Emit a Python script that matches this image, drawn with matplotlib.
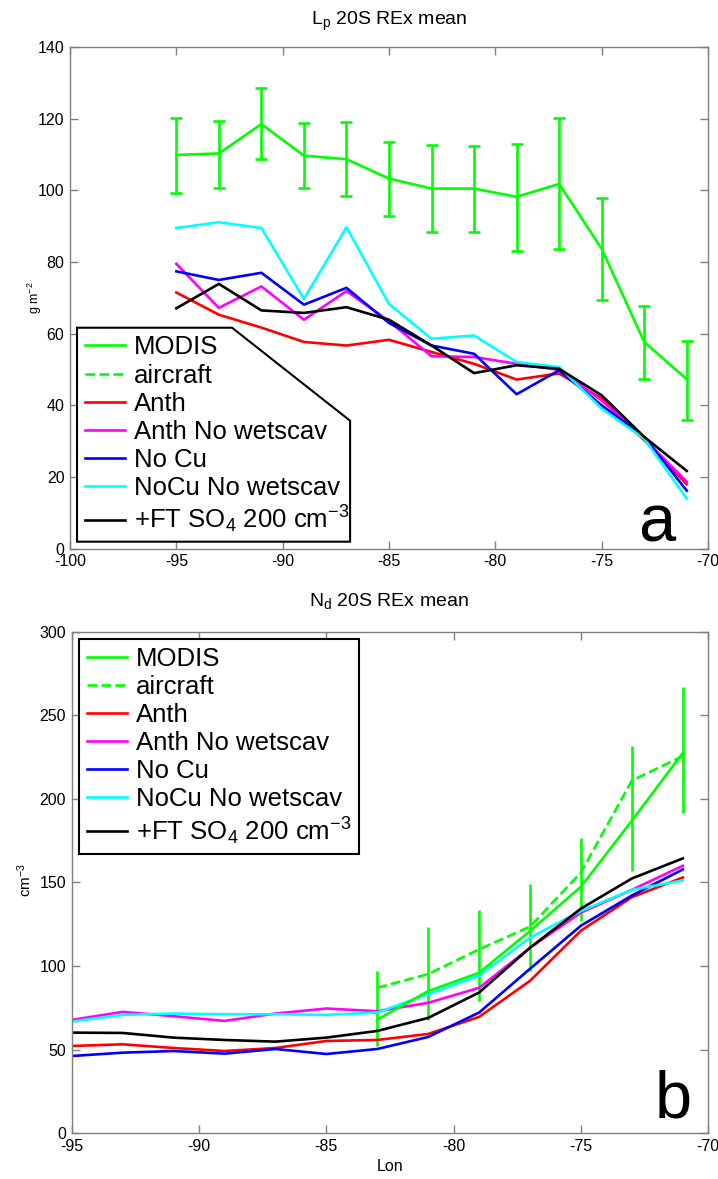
import matplotlib
matplotlib.use("Agg")
import matplotlib.pyplot as plt
from matplotlib.lines import Line2D
from matplotlib.patches import Polygon

plt.rcParams["font.family"] = ["Liberation Sans", "DejaVu Sans"]
plt.rcParams["mathtext.fontset"] = "custom"
plt.rcParams["mathtext.rm"] = "Liberation Sans"
plt.rcParams["mathtext.it"] = "Liberation Sans:italic"
plt.rcParams["axes.unicode_minus"] = False

# ---------------------------------------------------------------------------
# data
# ---------------------------------------------------------------------------
lon = [-95, -93, -91, -89, -87, -85, -83, -81, -79, -77, -75, -73, -71]

# panel a: liquid water path (g m-2)
lp_modis     = [109.9, 110.3, 118.5, 109.7, 108.7, 103.3, 100.5, 100.5, 98.2, 101.8, 83.7, 57.7, 47.3]
lp_modis_hi  = [120.3, 119.4, 128.7, 118.7, 119.2, 113.6, 112.7, 112.4, 112.9, 120.3, 98.0, 67.7, 58.1]
lp_modis_lo  = [99.4, 100.8, 108.7, 100.6, 98.3, 92.9, 88.3, 88.5, 83.2, 83.7, 69.3, 47.3, 35.8]
lp_anth      = [71.5, 65.3, 61.7, 57.7, 56.7, 58.3, 54.9, 51.6, 47.2, 48.9, 41.9, 30.3, 18.0]
lp_anth_nows = [79.5, 67.2, 73.2, 63.9, 71.9, 63.5, 53.7, 53.5, 51.6, 49.9, 41.4, 30.7, 18.7]
lp_nocu      = [77.4, 75.0, 77.0, 68.1, 72.8, 63.0, 56.7, 54.4, 43.1, 49.8, 40.0, 31.2, 16.2]
lp_nocu_nows = [89.5, 91.1, 89.5, 69.7, 89.7, 68.3, 58.6, 59.5, 52.1, 50.7, 39.1, 30.7, 14.0]
lp_ftso4     = [67.1, 73.9, 66.5, 65.8, 67.4, 63.9, 56.7, 49.0, 51.2, 50.2, 42.8, 31.2, 21.7]

# panel b: droplet number (cm-3)
obs_lon      = [-83, -81, -79, -77, -75, -73, -71]
nd_modis     = [68.0, 85.0, 96.0, 121.0, 147.5, 187.0, 227.5]
nd_modis_hi  = [96.8, 123.6, 133.6, 148.8, 176.9, 231.8, 267.0]
nd_modis_lo  = [52.0, 67.6, 79.0, 96.8, 126.8, 156.6, 191.4]
nd_aircraft  = [87.0, 95.2, 110.0, 123.6, 156.0, 211.0, 225.6]
nd_anth      = [52.2, 53.2, 51.0, 49.2, 51.0, 55.2, 55.8, 59.4, 69.6, 91.2, 121.2, 141.2, 153.0]
nd_anth_nows = [67.8, 72.6, 70.0, 67.2, 71.6, 74.6, 73.0, 78.0, 87.0, 111.0, 132.0, 145.6, 160.0]
nd_nocu      = [46.2, 48.2, 49.2, 47.6, 50.4, 47.4, 50.4, 57.6, 72.2, 98.4, 124.2, 142.2, 157.8]
nd_nocu_nows = [66.8, 70.8, 71.6, 71.2, 71.2, 70.8, 72.2, 83.2, 94.2, 117.0, 133.0, 145.6, 151.2]
nd_ftso4     = [60.2, 60.0, 57.2, 55.8, 54.8, 57.2, 61.2, 69.0, 84.2, 111.0, 134.4, 152.4, 164.4]

labels = ["MODIS", "aircraft", "Anth", "Anth No wetscav", "No Cu",
          "NoCu No wetscav", "+FT SO$_4$ 200 cm$^{-3}$"]

GREEN, RED, MAG, BLUE, CYAN, BLACK = "#00FF00", "#FF0000", "#FF00FF", "#0000FF", "#00FFFF", "#000000"
LW = 1.9


def style_axes(ax):
    for sp in ax.spines.values():
        sp.set_color("#7f7f7f")
        sp.set_linewidth(1.0)
    ax.tick_params(direction="in", length=6, width=1.0, color="#7f7f7f",
                   top=True, right=True, labelsize=11.5, pad=4)


def add_legend(ax, handles, anchor, frame):
    leg = ax.legend(handles, labels, loc="upper left", bbox_to_anchor=anchor,
                    borderaxespad=0, fontsize=18.5, labelspacing=0.16,
                    handlelength=1.55, handletextpad=0.35, borderpad=0.3,
                    frameon=frame, fancybox=False)
    if frame:
        leg.get_frame().set_edgecolor("black")
        leg.get_frame().set_linewidth(1.5)
        leg.get_frame().set_alpha(1)
    leg.set_zorder(6)
    return leg


fig = plt.figure(figsize=(7.18, 11.79), dpi=100)
ax1 = fig.add_axes([0.0975, 0.5346, 0.8886, 0.4255])
ax2 = fig.add_axes([0.0999, 0.0388, 0.8866, 0.4254])

# --- panel a ---------------------------------------------------------------
yerr = [[m - lo for m, lo in zip(lp_modis, lp_modis_lo)],
        [hi - m for m, hi in zip(lp_modis, lp_modis_hi)]]
ax1.errorbar(lon, lp_modis, yerr=yerr, color=GREEN, lw=LW, elinewidth=LW,
             capsize=4, capthick=LW)
ax1.plot(lon, lp_anth, color=RED, lw=LW)
ax1.plot(lon, lp_anth_nows, color=MAG, lw=LW)
ax1.plot(lon, lp_nocu, color=BLUE, lw=LW)
ax1.plot(lon, lp_nocu_nows, color=CYAN, lw=LW)
ax1.plot(lon, lp_ftso4, color=BLACK, lw=LW)
ax1.set_xlim(-100, -70)
ax1.set_ylim(0, 140)
ax1.set_xticks(range(-100, -69, 5))
ax1.set_yticks(range(0, 141, 20))
style_axes(ax1)
ax1.set_ylabel("g m$^{-2}$", fontsize=9)
ax1.yaxis.set_label_coords(-0.04, 0.5)

# odd-shaped legend outline as drawn in the original
poly = Polygon([(0.011, 0.4405), (0.254, 0.4405), (0.439, 0.2551),
                (0.439, 0.014), (0.011, 0.014)], closed=True,
               transform=ax1.transAxes, facecolor="white", edgecolor="black",
               lw=1.5, zorder=5)
ax1.add_patch(poly)

handles = [Line2D([], [], color=GREEN, lw=LW),
           Line2D([], [], color=GREEN, lw=LW, ls="--"),
           Line2D([], [], color=RED, lw=LW),
           Line2D([], [], color=MAG, lw=LW),
           Line2D([], [], color=BLUE, lw=LW),
           Line2D([], [], color=CYAN, lw=LW),
           Line2D([], [], color=BLACK, lw=LW)]
add_legend(ax1, handles, (0.011, 0.4405), frame=False)
ax1.text(0.948, 0.014, "a", transform=ax1.transAxes, ha="right",
         va="baseline", fontsize=48)

# --- panel b ---------------------------------------------------------------
yerr = [[m - lo for m, lo in zip(nd_modis, nd_modis_lo)],
        [hi - m for m, hi in zip(nd_modis, nd_modis_hi)]]
ax2.errorbar(obs_lon, nd_modis, yerr=yerr, color=GREEN, lw=LW,
             elinewidth=LW, capsize=0)
ax2.plot(obs_lon, nd_aircraft, color=GREEN, lw=LW, ls="--")
ax2.plot(lon, nd_anth, color=RED, lw=LW)
ax2.plot(lon, nd_anth_nows, color=MAG, lw=LW)
ax2.plot(lon, nd_nocu, color=BLUE, lw=LW)
ax2.plot(lon, nd_nocu_nows, color=CYAN, lw=LW)
ax2.plot(lon, nd_ftso4, color=BLACK, lw=LW)
ax2.set_xlim(-95, -70)
ax2.set_ylim(0, 300)
ax2.set_xticks(range(-95, -69, 5))
ax2.set_yticks(range(0, 301, 50))
style_axes(ax2)
ax2.set_ylabel("cm$^{-3}$", fontsize=11)
ax2.yaxis.set_label_coords(-0.06, 0.505)
ax2.set_xlabel("Lon", fontsize=11.5, va="top")
ax2.xaxis.set_label_coords(0.5, -0.052)
add_legend(ax2, handles, (0.0115, 0.9855), frame=True)
ax2.text(0.974, 0.032, "b", transform=ax2.transAxes, ha="right",
         va="baseline", fontsize=48)

fig.text(389 / 718, 1 - 21 / 1179, "L$_\\mathrm{p}$ 20S REx mean", ha="center",
         va="center", fontsize=14)
fig.text(389 / 718, 1 - 601 / 1179, "N$_\\mathrm{d}$ 20S REx mean", ha="center",
         va="center", fontsize=14)

fig.savefig("out.png", dpi=100, facecolor="white")
